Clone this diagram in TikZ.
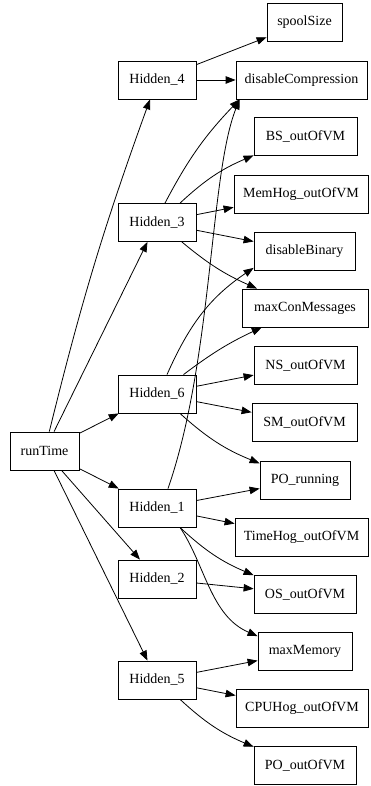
\documentclass[tikz,border=0pt]{standalone}
\usepackage{fontspec}
\setmainfont{Liberation Serif}
\usetikzlibrary{arrows.meta}
\begin{document}
\begin{tikzpicture}[x=1pt,y=1pt,
  box/.style={draw, line width=0.8pt, rectangle, minimum height=38pt, inner sep=0pt,
              font=\fontsize{14}{16}\selectfont},
  edge/.style={line width=0.8pt, -{Triangle[length=10pt,width=7.5pt]}}
]
\useasboundingbox (0,0) rectangle (370,786);

% root
\node[box, minimum width=69pt]  (runTime) at (44.5,335) {runTime};

% hidden layer
\node[box, minimum width=78pt]  (Hidden_4) at (157,706)   {Hidden\_4};
\node[box, minimum width=78pt]  (Hidden_3) at (157,563.5) {Hidden\_3};
\node[box, minimum width=78pt]  (Hidden_6) at (157,392)   {Hidden\_6};
\node[box, minimum width=78pt]  (Hidden_1) at (157,278)   {Hidden\_1};
\node[box, minimum width=78pt]  (Hidden_2) at (157,207)   {Hidden\_2};
\node[box, minimum width=78pt]  (Hidden_5) at (157,106)   {Hidden\_5};

% leaves
\node[box, minimum width=75pt]  (spoolSize)   at (304.5,763.5) {spoolSize};
\node[box, minimum width=131pt] (disableCompression) at (301.5,706) {disableCompression};
\node[box, minimum width=103pt] (BS_outOfVM)  at (305.5,649.5) {BS\_outOfVM};
\node[box, minimum width=134pt] (MemHog_outOfVM) at (301,592) {MemHog\_outOfVM};
\node[box, minimum width=101pt] (disableBinary) at (304.5,534.5) {disableBinary};
\node[box, minimum width=126pt] (maxConMessages) at (305,478) {maxConMessages};
\node[box, minimum width=103pt] (NS_outOfVM)  at (305.5,421) {NS\_outOfVM};
\node[box, minimum width=105pt] (SM_outOfVM)  at (304.5,363.5) {SM\_outOfVM};
\node[box, minimum width=90pt]  (PO_running)  at (305,306) {PO\_running};
\node[box, minimum width=133pt] (TimeHog_outOfVM) at (301.5,249) {TimeHog\_outOfVM};
\node[box, minimum width=102pt] (OS_outOfVM)  at (305,192) {OS\_outOfVM};
\node[box, minimum width=94pt]  (maxMemory)   at (305,134.5) {maxMemory};
\node[box, minimum width=132pt] (CPUHog_outOfVM) at (302,77.5) {CPUHog\_outOfVM};
\node[box, minimum width=102pt] (PO_outOfVM)  at (305,20.5) {PO\_outOfVM};

% runTime -> hidden nodes
\draw[edge] (runTime) to[bend left=3] (Hidden_4);
\draw[edge] (runTime) -- (Hidden_3);
\draw[edge] (runTime) -- (Hidden_6);
\draw[edge] (runTime) -- (Hidden_1);
\draw[edge] (runTime) -- (Hidden_2);
\draw[edge] (runTime) -- (Hidden_5);

% Hidden_4
\draw[edge] (Hidden_4) -- (spoolSize);
\draw[edge] (Hidden_4) -- (disableCompression);

% Hidden_3
\draw[edge] ([xshift=8pt]Hidden_3.north) to[bend left=8] ([xshift=4pt]disableCompression.south west);
\draw[edge] (Hidden_3) to[bend left=10] (BS_outOfVM);
\draw[edge] (Hidden_3) -- (MemHog_outOfVM);
\draw[edge] (Hidden_3) -- (disableBinary);
\draw[edge] (Hidden_3) to[bend right=8] (maxConMessages);

% Hidden_6
\draw[edge] ([xshift=10pt]Hidden_6.north) to[out=66,in=214] ([yshift=3pt]disableBinary.south west);
\draw[edge] (Hidden_6) to[bend left=6] (maxConMessages);
\draw[edge] (Hidden_6) -- (NS_outOfVM);
\draw[edge] (Hidden_6) -- (SM_outOfVM);
\draw[edge] (Hidden_6) to[bend right=10] (PO_running);

% Hidden_1
\draw[edge] ([xshift=11pt]Hidden_1.north) .. controls +(45,130) and +(-30,-75) .. ([xshift=4pt]disableCompression.south west);
\draw[edge] (Hidden_1) -- (PO_running);
\draw[edge] (Hidden_1) -- (TimeHog_outOfVM);
\draw[edge] (Hidden_1) to[bend right=10] (OS_outOfVM);
\draw[edge] ([xshift=23pt]Hidden_1.south) .. controls +(25,-37) and +(-47,20) .. ([yshift=-4pt]maxMemory.north west);

% Hidden_2
\draw[edge] (Hidden_2) -- (OS_outOfVM);

% Hidden_5
\draw[edge] (Hidden_5) -- (maxMemory);
\draw[edge] (Hidden_5) -- (CPUHog_outOfVM);
\draw[edge] (Hidden_5) to[bend right=10] (PO_outOfVM);
\end{tikzpicture}
\end{document}
